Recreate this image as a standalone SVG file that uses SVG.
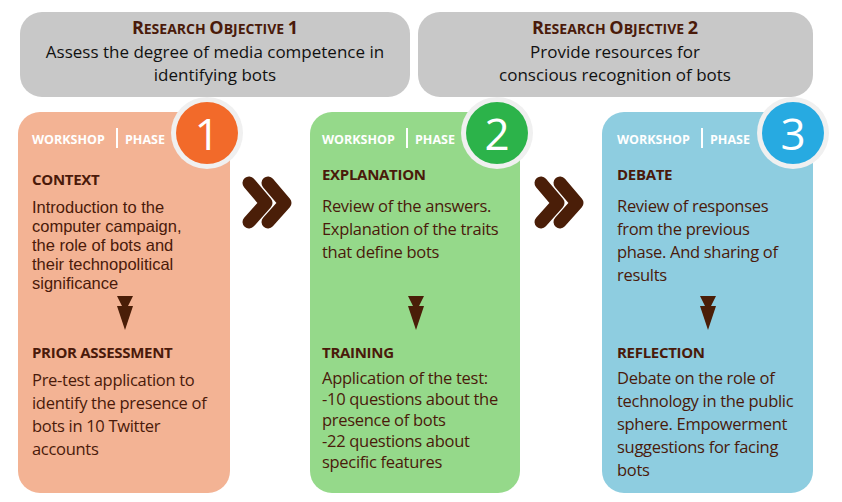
<svg xmlns="http://www.w3.org/2000/svg" width="842" height="502" viewBox="0 0 842 502">
<style>
text{font-family:"Open Sans","Liberation Sans",sans-serif;fill:#4a1a0a}
.obj{fill:#c8c8c8}
.t{font-size:16.5px;letter-spacing:-0.3px}
.c{font-family:"Liberation Sans",sans-serif;font-size:16.5px}
.h{font-size:15px;font-weight:bold;letter-spacing:-0.3px}
.w{font-size:12.5px;font-weight:bold;fill:#fff}
.ot{font-size:17px;fill:#111;text-anchor:middle}
.oh{font-weight:bold;text-anchor:middle;fill:#4a1a0a}
.num{font-size:44px;fill:#fff;text-anchor:middle}
.ch{fill:none;stroke:#4a1e08;stroke-width:13;stroke-linecap:round;stroke-linejoin:round}
.da{fill:#4a1e08}
</style>
<g id="objective1"><rect class="obj" x="20" y="12" width="390" height="85" rx="22"/>
<text class="oh" x="215" y="34"><tspan font-size="18">R</tspan><tspan font-size="14">ESEARCH </tspan><tspan font-size="18">O</tspan><tspan font-size="14">BJECTIVE </tspan><tspan font-size="18">1</tspan></text>
<text class="ot" x="215" y="58">Assess the degree of media competence in</text>
<text class="ot" x="215" y="81">identifying bots</text></g>
<g id="objective2"><rect class="obj" x="418" y="12" width="395" height="85" rx="22"/>
<text class="oh" x="615" y="34"><tspan font-size="18">R</tspan><tspan font-size="14">ESEARCH </tspan><tspan font-size="18">O</tspan><tspan font-size="14">BJECTIVE </tspan><tspan font-size="18">2</tspan></text>
<text class="ot" x="615" y="58">Provide resources for</text>
<text class="ot" x="615" y="81">conscious recognition of bots</text></g>

<g id="phase1"><rect x="18" y="112" width="212" height="381" rx="22" fill="#f3b394"/>
<text class="w" x="32" y="144">WORKSHOP</text><rect x="116" y="128" width="2" height="20" fill="#fff"/><text class="w" x="125" y="144">PHASE</text>
<circle cx="207" cy="133" r="36" fill="#f0f0f0"/><circle cx="207" cy="133" r="31" fill="#f26a2a"/><text class="num" x="207" y="150">1</text>
<text class="h" x="32" y="185">CONTEXT</text>
<text class="c" x="32" y="213">Introduction to the</text>
<text class="c" x="32" y="232">computer campaign,</text>
<text class="c" x="32" y="251">the role of bots and</text>
<text class="c" x="32" y="270">their technopolitical</text>
<text class="c" x="32" y="289">significance</text>
<text class="h" x="32" y="358">PRIOR ASSESSMENT</text>
<text class="t" x="32" y="386">Pre-test application to</text>
<text class="t" x="32" y="409">identify the presence of</text>
<text class="t" x="32" y="432">bots in 10 Twitter</text>
<text class="t" x="32" y="455">accounts</text></g>

<g id="phase2"><rect x="310" y="112" width="210" height="381" rx="22" fill="#95d98a"/>
<text class="w" x="322" y="144">WORKSHOP</text><rect x="406" y="128" width="2" height="20" fill="#fff"/><text class="w" x="415" y="144">PHASE</text>
<circle cx="497" cy="133" r="36" fill="#f0f0f0"/><circle cx="497" cy="133" r="31" fill="#2cb34a"/><text class="num" x="497" y="150">2</text>
<text class="h" x="322" y="180">EXPLANATION</text>
<text class="t" x="322" y="212">Review of the answers.</text>
<text class="t" x="322" y="235">Explanation of the traits</text>
<text class="t" x="322" y="258">that define bots</text>
<text class="h" x="322" y="358">TRAINING</text>
<text class="t" x="322" y="384">Application of the test:</text>
<text class="t" x="322" y="405">-10 questions about the</text>
<text class="t" x="322" y="426">presence of bots</text>
<text class="t" x="322" y="447">-22 questions about</text>
<text class="t" x="322" y="468">specific features</text></g>

<g id="phase3"><rect x="602" y="112" width="211" height="381" rx="22" fill="#8ecde0"/>
<text class="w" x="617" y="144">WORKSHOP</text><rect x="701" y="128" width="2" height="20" fill="#fff"/><text class="w" x="710" y="144">PHASE</text>
<circle cx="793" cy="133" r="36" fill="#f0f0f0"/><circle cx="793" cy="133" r="31" fill="#27aae1"/><text class="num" x="793" y="150">3</text>
<text class="h" x="617" y="180">DEBATE</text>
<text class="t" x="617" y="212">Review of responses</text>
<text class="t" x="617" y="235">from the previous</text>
<text class="t" x="617" y="258">phase. And sharing of</text>
<text class="t" x="617" y="281">results</text>
<text class="h" x="617" y="358">REFLECTION</text>
<text class="t" x="617" y="384">Debate on the role of</text>
<text class="t" x="617" y="407">technology in the public</text>
<text class="t" x="617" y="430">sphere. Empowerment</text>
<text class="t" x="617" y="453">suggestions for facing</text>
<text class="t" x="617" y="476">bots</text></g>

<g id="connectors">
<path class="ch" d="M249 183 L266 203 L249 222 M268 183 L285 203 L268 222"/>
<path class="ch" d="M541 183 L558 203 L541 222 M560 183 L577 203 L560 222"/>
<path class="da" d="M117 296 L133 296 L128 306 L133 306 L125 330 L117 306 L122 306 Z"/>
<path class="da" d="M408 296 L424 296 L419 306 L424 306 L416 330 L408 306 L413 306 Z"/>
<path class="da" d="M700 296 L716 296 L711 306 L716 306 L708 330 L700 306 L705 306 Z"/>
</g>
</svg>
